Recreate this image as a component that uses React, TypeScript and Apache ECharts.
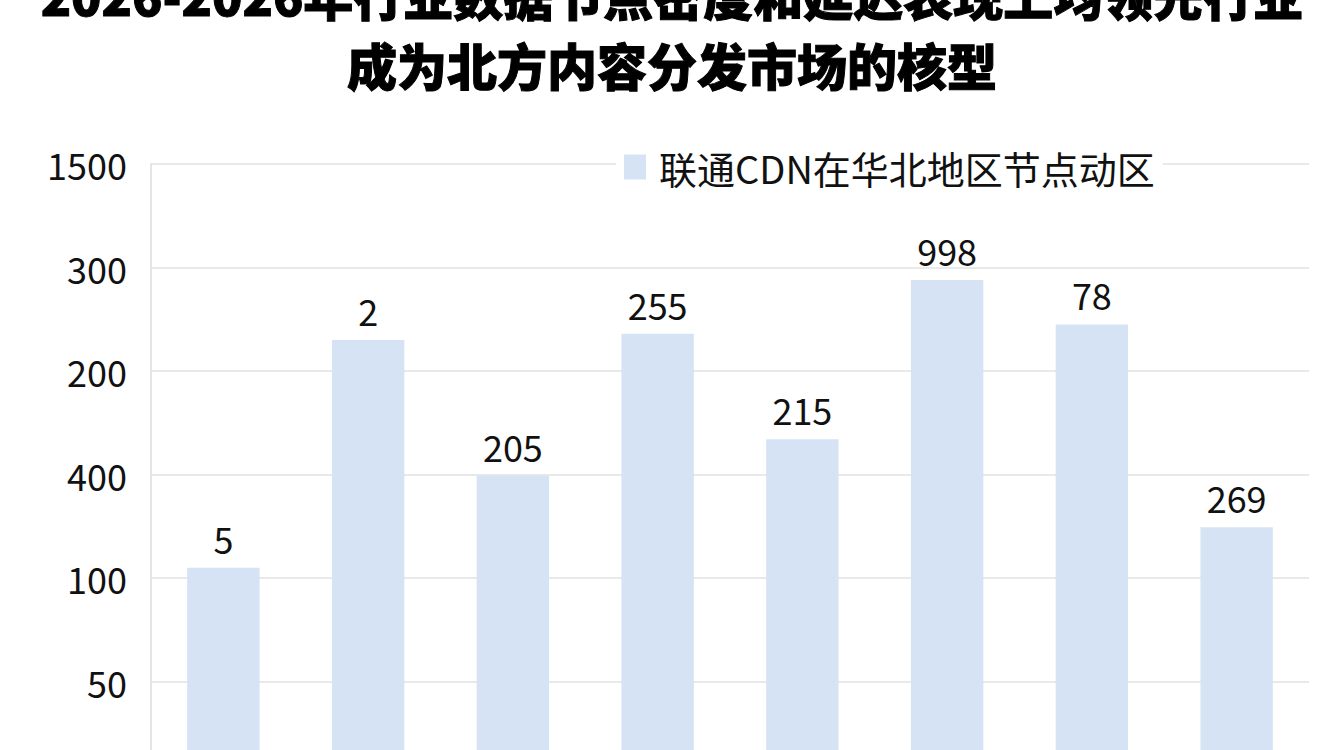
import React, { useEffect, useRef } from 'react';
import * as echarts from 'echarts';

// 图表数据
const titleLines = ['2026-2026年行业数据节点密度和延迟表现上均领先行业', '成为北方内容分发市场的核型'];
const seriesName = '联通CDN在华北地区节点动区';
const categories = ['1', '2', '3', '4', '5', '6', '7', '8'];
const barValues = [210, 430, 299, 436, 334, 488, 445, 249];
const barLabels = ['5', '2', '205', '255', '215', '998', '78', '269'];
const yTickLabels = ['', '50', '100', '400', '200', '300', '1500'];

const FONT = '"Noto Sans CJK SC", "Noto Sans", sans-serif';

const App: React.FC = () => {
    const chartRef: any = useRef();

    useEffect(() => {
        document.body.style.margin = '0';
        document.body.style.overflow = 'hidden';
        const chart = echarts.init(chartRef.current, undefined, { renderer: 'svg' });
        const option = {
            animation: false,
            backgroundColor: '#fff',
            title: {
                text: titleLines.join('\n'),
                left: 'center',
                top: -46,
                textStyle: {
                    fontFamily: FONT,
                    fontSize: 50,
                    fontWeight: 900,
                    lineHeight: 70,
                    color: '#000',
                    textBorderColor: '#000',
                    textBorderWidth: 1,
                },
            },
            legend: {
                data: [seriesName],
                icon: 'rect',
                left: 616,
                top: 148,
                itemWidth: 22,
                itemHeight: 25,
                itemGap: 14,
                padding: [0, 8],
                backgroundColor: '#fff',
                textStyle: { fontFamily: FONT, fontSize: 38, color: '#111', padding: [0, 0, 0, 8] },
            },
            grid: { left: 151, right: 35, top: 164, height: 621 },
            xAxis: {
                type: 'category',
                data: categories,
                axisLine: { show: false },
                axisTick: { show: false },
                axisLabel: { show: false },
            },
            yAxis: {
                type: 'value',
                min: 0,
                max: 600,
                interval: 100,
                axisLine: { show: true, lineStyle: { color: '#dcdcdc', width: 1.5 } },
                axisTick: { show: false },
                splitLine: { lineStyle: { color: '#e2e2e2', width: 1.5 } },
                axisLabel: {
                    margin: 24,
                    fontFamily: FONT,
                    fontSize: 36,
                    color: '#111',
                    formatter: (v: number) => yTickLabels[Math.round(v / 100)] ?? '',
                },
            },
            series: [{
                name: seriesName,
                type: 'bar',
                data: barValues,
                barWidth: '50%',
                itemStyle: { color: '#d5e3f4' },
                label: {
                    show: true,
                    position: 'top',
                    distance: 12,
                    fontFamily: FONT,
                    fontSize: 36,
                    color: '#111',
                    formatter: (p: any) => barLabels[p.dataIndex],
                },
            }],
        };
        chart.setOption(option);
        return () => {
            chart.dispose();
        };
    }, []);

    return (
        <div style={{ width: 1344, height: 750, overflow: 'hidden' }}>
            <div ref={chartRef} style={{ width: 1344, height: 800 }}></div>
        </div>
    );
};

export default App;
